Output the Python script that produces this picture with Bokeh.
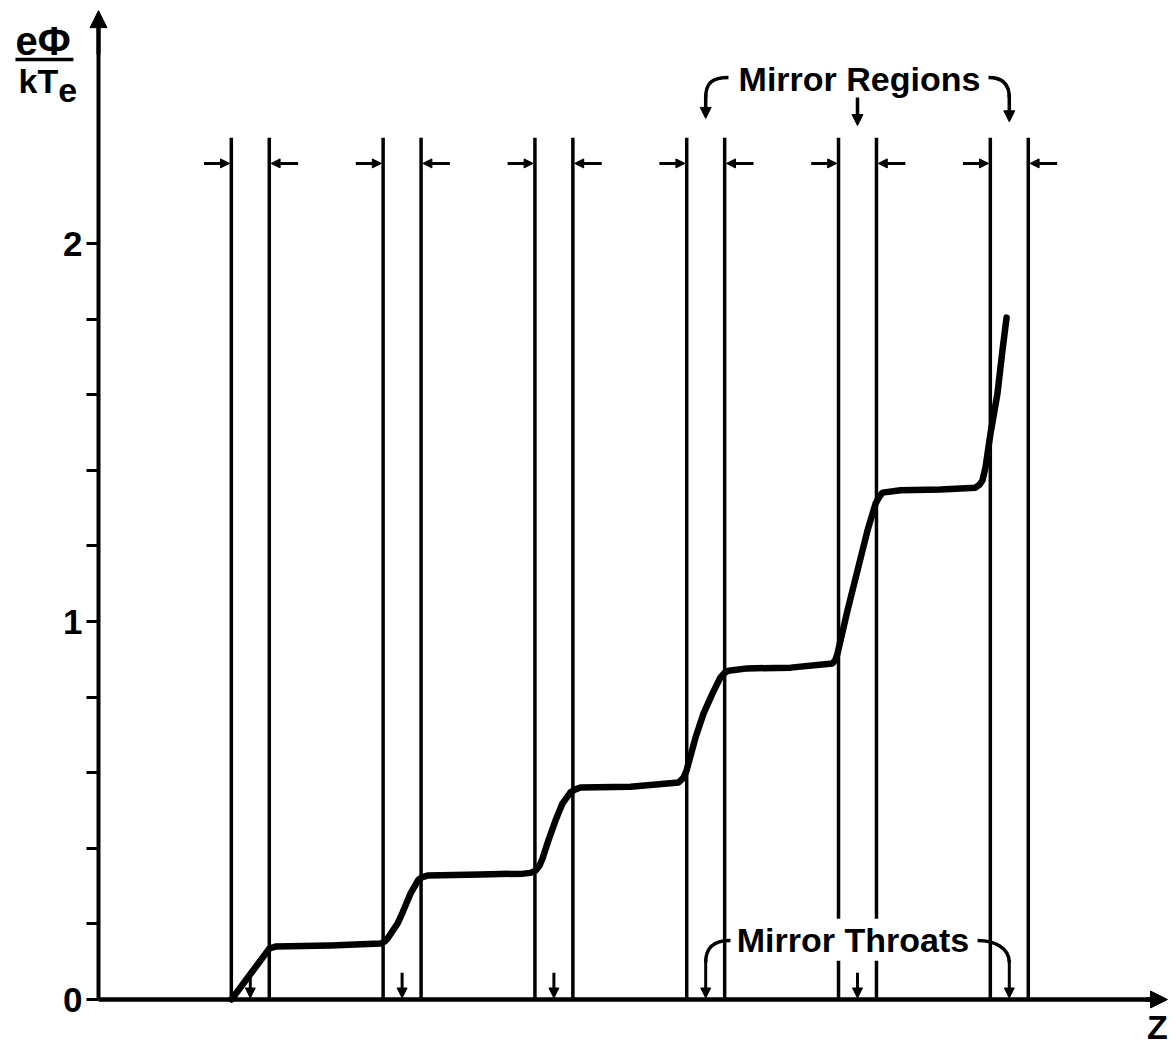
from bokeh.plotting import figure
from bokeh.models import (Range1d, LinearAxis, FixedTicker, Arrow, NormalHead,
                          Label, ColumnDataSource)
from bokeh.embed import file_html
from bokeh.resources import INLINE

# ---------------- data ----------------
throats = [1, 2, 3, 4, 5, 6]          # mirror throat positions along Z
mirror_half_width = 0.125             # half width of each mirror region
line_top = 2.28                       # top of the mirror boundary lines
bracket_level = 2.212                 # level of the inward arrows

z_curve = [0.876, 1.126, 1.166, 1.528, 1.858, 1.884, 1.904, 1.970, 2.003, 2.055,
           2.108, 2.134, 2.167, 2.516, 2.800, 2.846, 2.879, 2.905, 2.925, 2.964,
           3.011, 3.057, 3.109, 3.142, 3.175, 3.505, 3.821, 3.854, 3.874, 3.933,
           3.986, 4.045, 4.097, 4.124, 4.150, 4.275, 4.559, 4.835, 4.855, 4.868,
           4.934, 5.000, 5.066, 5.119, 5.145, 5.165, 5.283, 5.547, 5.777, 5.804,
           5.823, 5.843, 5.876, 5.922, 5.955, 5.982]
phi_curve = [0.000, 0.135, 0.140, 0.143, 0.148, 0.153, 0.161, 0.201, 0.230, 0.280,
             0.317, 0.324, 0.328, 0.331, 0.333, 0.335, 0.341, 0.354, 0.373, 0.421,
             0.474, 0.519, 0.548, 0.556, 0.561, 0.563, 0.574, 0.587, 0.606, 0.693,
             0.757, 0.810, 0.852, 0.864, 0.870, 0.876, 0.878, 0.889, 0.899, 0.915,
             1.029, 1.135, 1.241, 1.312, 1.331, 1.341, 1.347, 1.349, 1.354, 1.362,
             1.373, 1.407, 1.497, 1.603, 1.717, 1.804]

y_major = [0, 1, 2]
y_minor = [0.2, 0.4, 0.6, 0.8, 1.2, 1.4, 1.6, 1.8]

regions_text = "Mirror Regions"
regions_anchor = [5.013, 2.436]
throats_text = "Mirror Throats"
throats_anchor = [4.970, 0.158]

# curved connectors (Bezier) from the texts to the throats
reg_conn_x0 = [4.150, 5.863]
reg_conn_y0 = [2.439, 2.439]
reg_conn_cx0 = [4.045, 5.942]
reg_conn_cy0 = [2.439, 2.439]
reg_conn_cx1 = [4.0, 6.0]
reg_conn_cy1 = [2.426, 2.426]
reg_conn_x1 = [4.0, 6.0]
reg_conn_y1 = [2.386, 2.386]
reg_arrow_z = [4, 5, 6]
reg_arrow_top = [2.395, 2.386, 2.395]
reg_arrow_tip = [2.331, 2.312, 2.322]

thr_conn_x0 = [4.163, 5.791]
thr_conn_y0 = [0.156, 0.156]
thr_conn_cx0 = [4.045, 5.909]
thr_conn_cy0 = [0.156, 0.156]
thr_conn_cx1 = [4.0, 6.0]
thr_conn_cy1 = [0.135, 0.135]
thr_conn_x1 = [4.0, 6.0]
thr_conn_y1 = [0.098, 0.098]
thr_arrow_z = [1, 2, 3, 4, 5, 6]
thr_arrow_top = [0.071, 0.071, 0.071, 0.105, 0.071, 0.105]
thr_arrow_tip = [0.004, 0.004, 0.004, 0.004, 0.004, 0.004]

FONT = "Liberation Sans"

# ---------------- figure ----------------
p = figure(width=1175, height=1050,
           x_range=Range1d(-0.6456, 7.0949), y_range=Range1d(-0.1349, 2.6429),
           x_axis_type=None, y_axis_type=None,
           toolbar_location=None, output_backend="svg",
           min_border=0, outline_line_color=None)
p.background_fill_color = "white"
p.border_fill_color = "white"

yaxis = LinearAxis(fixed_location=0,
                   ticker=FixedTicker(ticks=y_major, minor_ticks=y_minor),
                   bounds=(0, 2.58),
                   axis_line_width=4, axis_line_color="black",
                   major_tick_out=12, major_tick_in=0, major_tick_line_width=3,
                   minor_tick_out=12, minor_tick_in=0, minor_tick_line_width=3,
                   major_label_standoff=4,
                   major_label_text_font=FONT, major_label_text_font_size="35px",
                   major_label_text_font_style="bold",
                   major_label_text_color="black")
p.add_layout(yaxis, "left")

xaxis = LinearAxis(fixed_location=0, ticker=FixedTicker(ticks=[]),
                   bounds=(0, 6.95), axis_line_width=4.5, axis_line_color="black",
                   major_tick_line_color=None, minor_tick_line_color=None,
                   major_label_text_font_size="0px")
p.add_layout(xaxis, "below")

# axis arrowheads
p.add_layout(Arrow(x_start=6.9, y_start=0, x_end=7.042, y_end=0, line_width=4.5,
                   end=NormalHead(size=17, fill_color="black", line_color="black")))
p.add_layout(Arrow(x_start=0, y_start=2.5, x_end=0, y_end=2.616, line_width=4,
                   end=NormalHead(size=17, fill_color="black", line_color="black")))

# mirror boundary lines
lefts = [t - mirror_half_width for t in throats]
rights = [t + mirror_half_width for t in throats]
bx = lefts + rights
p.segment(x0=bx, y0=[0] * len(bx), x1=bx, y1=[line_top] * len(bx),
          line_width=3.5, line_color="black")

# inward bracket arrows
bsrc = ColumnDataSource(dict(
    xs=[l - 0.18 for l in lefts] + [r + 0.19 for r in rights],
    xe=[l - 0.012 for l in lefts] + [r + 0.012 for r in rights],
    y=[bracket_level] * (2 * len(throats))))
p.add_layout(Arrow(source=bsrc, x_start="xs", y_start="y", x_end="xe", y_end="y",
                   line_width=3,
                   end=NormalHead(size=9, fill_color="black", line_color="black")))

# potential curve
p.line(z_curve, phi_curve, line_width=6.5, line_color="black",
       line_join="round", line_cap="round")

# connectors
p.bezier(x0=reg_conn_x0, y0=reg_conn_y0, x1=reg_conn_x1, y1=reg_conn_y1,
         cx0=reg_conn_cx0, cy0=reg_conn_cy0, cx1=reg_conn_cx1, cy1=reg_conn_cy1,
         line_width=3.5, line_color="black")
p.bezier(x0=thr_conn_x0, y0=thr_conn_y0, x1=thr_conn_x1, y1=thr_conn_y1,
         cx0=thr_conn_cx0, cy0=thr_conn_cy0, cx1=thr_conn_cx1, cy1=thr_conn_cy1,
         line_width=3.5, line_color="black")

rsrc = ColumnDataSource(dict(x=reg_arrow_z, y0=reg_arrow_top, y1=reg_arrow_tip))
p.add_layout(Arrow(source=rsrc, x_start="x", y_start="y0", x_end="x", y_end="y1",
                   line_width=3.5,
                   end=NormalHead(size=11, fill_color="black", line_color="black")))
tsrc = ColumnDataSource(dict(x=thr_arrow_z, y0=thr_arrow_top, y1=thr_arrow_tip))
p.add_layout(Arrow(source=tsrc, x_start="x", y_start="y0", x_end="x", y_end="y1",
                   line_width=3,
                   end=NormalHead(size=10, fill_color="black", line_color="black")))

# texts
p.add_layout(Label(x=regions_anchor[0], y=regions_anchor[1], text=regions_text,
                   text_align="center", text_baseline="alphabetic",
                   text_font=FONT, text_font_size="34px", text_font_style="bold",
                   text_color="black"))
p.add_layout(Label(x=throats_anchor[0], y=throats_anchor[1], text=throats_text,
                   text_align="center", text_baseline="alphabetic",
                   text_font=FONT, text_font_size="34px", text_font_style="bold",
                   text_color="black", background_fill_color="white",
                   padding=2))

# y-axis label eΦ / kTe
p.add_layout(Label(x=-0.547, y=2.537, text="eΦ", text_align="left",
                   text_baseline="alphabetic", text_font=FONT,
                   text_font_size="40px", text_font_style="bold", text_color="black"))
p.segment(x0=[-0.547], y0=[2.487], x1=[-0.165], y1=[2.487],
          line_width=3.5, line_color="black")
p.add_layout(Label(x=-0.527, y=2.431, text="kT", text_align="left",
                   text_baseline="alphabetic", text_font=FONT,
                   text_font_size="34px", text_font_style="bold", text_color="black"))
p.add_layout(Label(x=-0.265, y=2.404, text="e", text_align="left",
                   text_baseline="alphabetic", text_font=FONT,
                   text_font_size="34px", text_font_style="bold", text_color="black"))

# Z label
p.add_layout(Label(x=6.976, y=-0.072, text="Z", text_align="center",
                   text_baseline="alphabetic", text_font=FONT,
                   text_font_size="34px", text_font_style="bold", text_color="black"))

open("out.html", "w").write(file_html(p, INLINE))
